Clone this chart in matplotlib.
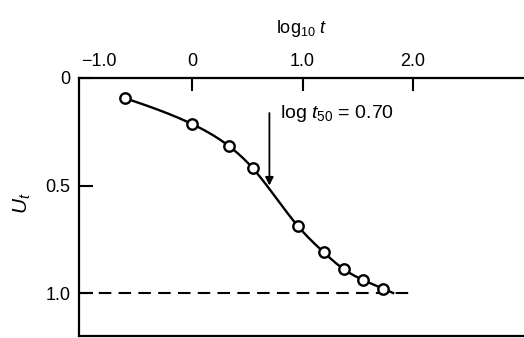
import numpy as np
import matplotlib
matplotlib.use("Agg")
import matplotlib.pyplot as plt

plt.rcParams['font.family'] = ['Liberation Sans', 'DejaVu Sans']
plt.rcParams['mathtext.fontset'] = 'custom'
plt.rcParams['mathtext.rm'] = 'Liberation Sans'
plt.rcParams['mathtext.it'] = 'Liberation Sans:italic'

# Data
log_t = [-0.61, 0.0, 0.33, 0.55, 0.96, 1.19, 1.375, 1.55, 1.73]
U_t = [0.093, 0.214, 0.315, 0.42, 0.69, 0.81, 0.89, 0.94, 0.98]
curve_end_logt = 1.82
curve_end_u = 1.0
log_t50 = 0.70
plateau_u = 1.0
plateau_end = 1.96
x_ticks = [-1.0, 0.0, 1.0, 2.0]
x_ticklabels = ['\u22121.0', '0', '1.0', '2.0']
y_ticks = [0.0, 0.5, 1.0]
y_ticklabels = ['0', '0.5', '1.0']


def natural_spline(x, y, xn):
    x = np.asarray(x, float); y = np.asarray(y, float)
    n = len(x); h = np.diff(x)
    A = np.zeros((n, n)); b = np.zeros(n)
    A[0, 0] = A[-1, -1] = 1
    for i in range(1, n - 1):
        A[i, i - 1] = h[i - 1]; A[i, i] = 2 * (h[i - 1] + h[i]); A[i, i + 1] = h[i]
        b[i] = 6 * ((y[i + 1] - y[i]) / h[i] - (y[i] - y[i - 1]) / h[i - 1])
    M = np.linalg.solve(A, b)
    idx = np.clip(np.searchsorted(x, xn) - 1, 0, n - 2)
    xi, xi1, hi = x[idx], x[idx + 1], h[idx]
    return (M[idx] * (xi1 - xn)**3 / (6 * hi) + M[idx + 1] * (xn - xi)**3 / (6 * hi)
            + (y[idx] / hi - M[idx] * hi / 6) * (xi1 - xn)
            + (y[idx + 1] / hi - M[idx + 1] * hi / 6) * (xn - xi))


fig = plt.figure(figsize=(5.24, 3.38), dpi=100)
ax = fig.add_axes([79 / 524, 1 - 336 / 338, 1 - 79 / 524, (336 - 78) / 338])

ax.set_xlim(-1.023, 3.004)
ax.set_ylim(1.2, 0.0)

cx = list(log_t) + [curve_end_logt]
cy = list(U_t) + [curve_end_u]
xs = np.linspace(cx[0], cx[-1], 400)
ax.plot(xs, natural_spline(cx, cy, xs), color='black', lw=1.7, zorder=2)
ax.plot(log_t, U_t, 'o', ms=7.5, mfc='white', mec='black', mew=1.7, zorder=3)

ax.plot([-1.023, plateau_end], [plateau_u, plateau_u], color='black', lw=1.5,
        dashes=(6, 3.5), zorder=1)

ax.annotate('', xy=(log_t50, 0.50), xytext=(log_t50, 0.163),
            arrowprops=dict(arrowstyle='-|>', color='black', lw=1.3,
                            mutation_scale=12, shrinkA=0, shrinkB=0))
ax.text(log_t50 + 0.10, 0.163, r'log $t_{50}$ = 0.70', fontsize=14,
        ha='left', va='center')

ax.xaxis.set_ticks_position('top')
ax.xaxis.set_label_position('top')
ax.set_xticks(x_ticks)
ax.set_xticklabels(x_ticklabels, fontsize=13)
for lbl in ax.get_xticklabels()[:1]:
    lbl.set_horizontalalignment('left')
ax.set_yticks(y_ticks)
ax.set_yticklabels(y_ticklabels, fontsize=13)
ax.tick_params(axis='x', direction='in', length=9, width=1.5, pad=6)
ax.tick_params(axis='y', direction='in', length=10, width=1.5, pad=6)
ax.xaxis.get_major_ticks()[0].tick2line.set_visible(False)
ax.xaxis.get_major_ticks()[0].tick1line.set_visible(False)
ax.set_xlabel(r'log$_{10}$ $t$', fontsize=13, labelpad=14)
ax.set_ylabel(r'$U_t$', fontsize=15, va='center')
ax.yaxis.set_label_coords(-0.128, 0.515)

for s in ['top', 'left', 'bottom']:
    ax.spines[s].set_linewidth(1.6)
ax.spines['right'].set_visible(False)

fig.savefig('out.png', dpi=100)
